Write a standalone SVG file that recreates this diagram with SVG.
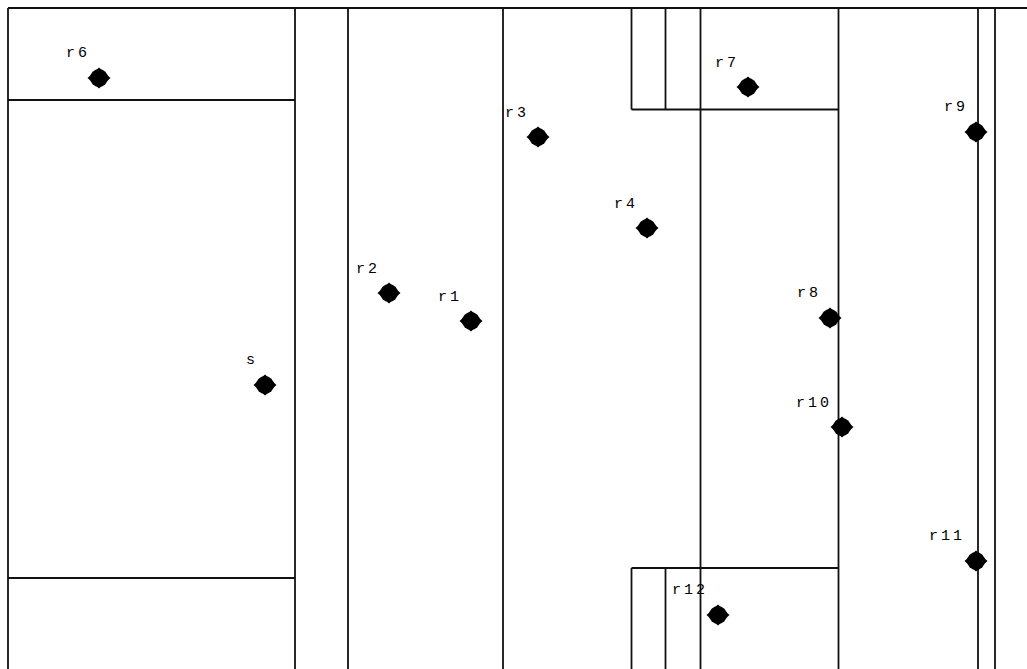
<svg xmlns="http://www.w3.org/2000/svg" width="1027" height="669" viewBox="0 0 1027 669">
  <defs>
    <g id="dot">
      <circle r="9" cx="0" cy="0"/>
      <polygon points="-11.5,0 0,-10.5 11.5,0 0,10.5"/>
    </g>
  </defs>
  <style>
    .w { stroke: #111; stroke-width: 1.8; fill: none; }
    .lbl { font-family: "Liberation Mono", "DejaVu Sans Mono", monospace; font-size: 15px; letter-spacing: 3px; fill: #000; }
    .d { fill: #000; }
  </style>
  <rect width="1027" height="669" fill="#fff"/>
  <g id="walls" class="w">
    <line x1="8" y1="8" x2="1027" y2="8"/>
    <line x1="8" y1="8" x2="8" y2="669"/>
    <line x1="295" y1="8" x2="295" y2="669"/>
    <line x1="348" y1="8" x2="348" y2="669"/>
    <line x1="503" y1="8" x2="503" y2="669"/>
    <line x1="631.5" y1="8" x2="631.5" y2="109.5"/>
    <line x1="665.5" y1="8" x2="665.5" y2="109.5"/>
    <line x1="631.5" y1="568" x2="631.5" y2="669"/>
    <line x1="665.5" y1="568" x2="665.5" y2="669"/>
    <line x1="700.5" y1="8" x2="700.5" y2="669"/>
    <line x1="838.5" y1="8" x2="838.5" y2="669"/>
    <line x1="978" y1="8" x2="978" y2="669"/>
    <line x1="995" y1="8" x2="995" y2="669"/>
    <line x1="8" y1="100" x2="295" y2="100"/>
    <line x1="8" y1="578" x2="295" y2="578"/>
    <line x1="631.5" y1="109.5" x2="838.5" y2="109.5"/>
    <line x1="631.5" y1="568" x2="838.5" y2="568"/>
  </g>
  <g id="node-r6"><use href="#dot" class="d" x="99" y="78"/><text class="lbl" x="66" y="57">r6</text></g>
  <g id="node-r7"><use href="#dot" class="d" x="748" y="87"/><text class="lbl" x="715" y="67">r7</text></g>
  <g id="node-r3"><use href="#dot" class="d" x="538" y="137"/><text class="lbl" x="505" y="117">r3</text></g>
  <g id="node-r4"><use href="#dot" class="d" x="647" y="228"/><text class="lbl" x="614" y="208">r4</text></g>
  <g id="node-r9"><use href="#dot" class="d" x="976" y="132"/><text class="lbl" x="944" y="111">r9</text></g>
  <g id="node-r2"><use href="#dot" class="d" x="389" y="293"/><text class="lbl" x="356" y="273">r2</text></g>
  <g id="node-r1"><use href="#dot" class="d" x="471" y="321"/><text class="lbl" x="438" y="301">r1</text></g>
  <g id="node-s"><use href="#dot" class="d" x="265" y="385"/><text class="lbl" x="246" y="364">s</text></g>
  <g id="node-r8"><use href="#dot" class="d" x="830" y="318"/><text class="lbl" x="797" y="297">r8</text></g>
  <g id="node-r10"><use href="#dot" class="d" x="842" y="427"/><text class="lbl" x="796" y="407">r10</text></g>
  <g id="node-r11"><use href="#dot" class="d" x="976" y="561"/><text class="lbl" x="929" y="540">r11</text></g>
  <g id="node-r12"><use href="#dot" class="d" x="718" y="615"/><text class="lbl" x="672" y="594">r12</text></g>
</svg>
